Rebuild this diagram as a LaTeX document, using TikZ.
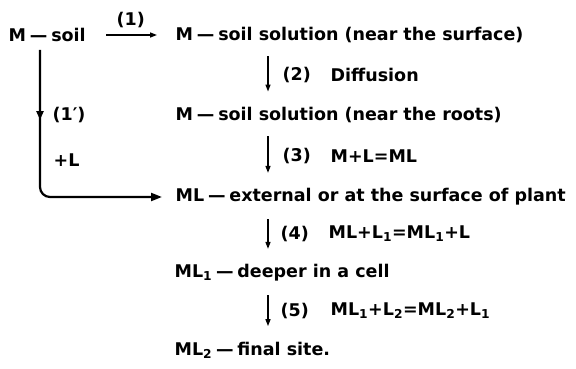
\documentclass[tikz,border=0pt]{standalone}
\usepackage{fontspec}
\setmainfont{DejaVu Sans}
\usetikzlibrary{arrows.meta,decorations.markings}
\newcommand{\bond}{\hspace{0.22em}—\hspace{0.22em}}
\tikzset{
  species/.style={anchor=west, inner sep=0pt},
  steplabel/.style={anchor=west, inner sep=0pt},
  reaction/.style={->, shorten <=13pt, shorten >=15pt},
}
\begin{document}
\begin{tikzpicture}[x=1pt, y=-1pt, line width=1.3pt,
    >={Triangle[length=7pt,width=5pt]},
    font=\bfseries\fontsize{17.5}{20}\selectfont]
    \useasboundingbox (0,0) rectangle (576,369);
    % Species
    \node (soil) [species] at (8,35) {M\bond soil};
    \node (surf) [species] at (175,35) {M\bond soil solution (near the surface)};
    \node (roots) [species] at (175,115) {M\bond soil solution (near the roots)};
    \node (ext) [species] at (175,197) {ML\bond external or at the surface of plant};
    \node (cell) [species] at (174,273) {ML\textsubscript{1}\bond deeper in a cell};
    \node (site) [species] at (174,350) {ML\textsubscript{2}\bond final site.};
    \coordinate (axis) at (268,0);
    \coordinate (branch) at (40,50);

    % Steps
    \draw[->, shorten <=20pt, shorten >=18pt] (soil.east) -- (surf.west)
        node[midway, above=3pt] {(1)};
    \draw[reaction] (surf.south -| axis) -- (roots.north -| axis);
    \draw[reaction] (roots.south -| axis) -- (ext.north -| axis);
    \draw[reaction] (ext.south -| axis) -- (cell.north -| axis);
    \draw[reaction] (cell.south -| axis) -- (site.north -| axis);

    % Direct uptake with ligand
    \draw[line width=2.2pt, rounded corners=10pt, shorten >=13pt,
        -{Triangle[length=11pt,width=8pt]},
        postaction={decorate},
        decoration={markings, mark=at position 70pt with {\arrow{Triangle[length=9pt,width=7pt]}}}]
        (branch) |- (ext.west);
    \node (lig1) [steplabel] at (52,115) {(1′)};
    \node (lig2) [steplabel] at (53,160) {+L};

    % Step labels
    \node (l2) [steplabel] at (282,75) {(2)};
    \node (r2) [steplabel] at (330,75) {Diffusion};
    \node (l3) [steplabel] at (282,156) {(3)};
    \node (r3) [steplabel] at (330,156) {M+L=ML};
    \node (l4) [steplabel] at (280,234) {(4)};
    \node (r4) [steplabel] at (328,234) {ML+L\textsubscript{1}=ML\textsubscript{1}+L};
    \node (l5) [steplabel] at (280,311) {(5)};
    \node (r5) [steplabel] at (330,311) {ML\textsubscript{1}+L\textsubscript{2}=ML\textsubscript{2}+L\textsubscript{1}};
\end{tikzpicture}
\end{document}
